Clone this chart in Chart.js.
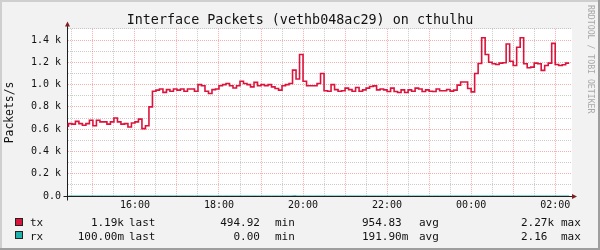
<!DOCTYPE html>
<html><head><meta charset="utf-8">
<script src="https://cdn.jsdelivr.net/npm/chart.js@4/dist/chart.umd.min.js"></script>
<style>
html,body{margin:0;padding:0;background:#f2f2f2;}
#wrap{position:relative;width:600px;height:250px;overflow:hidden;font-family:'DejaVu Sans Mono',monospace;color:#000;}
#c{position:absolute;left:0;top:0;}
.t{position:absolute;font-size:11px;line-height:11px;white-space:pre;color:#111;}
.sw{position:absolute;left:15px;width:6px;height:6px;border:1px solid #222;}
#wm{position:absolute;left:586px;top:5px;writing-mode:vertical-rl;font-size:8.2px;line-height:10px;color:#a8a8a8;white-space:pre;}
</style>
</head><body>
<div id="wrap">
<canvas id="c" width="600" height="250"></canvas>
<div class="sw" style="top:218px;background:#dc143c"></div>
<div class="sw" style="top:231px;background:#20b2aa"></div>
<span class="t" style="left:30px;top:217px">tx</span>
<span class="t" style="right:476px;top:217px">1.19k</span>
<span class="t" style="left:129px;top:217px">last</span>
<span class="t" style="right:340px;top:217px">494.92</span>
<span class="t" style="left:275px;top:217px">min</span>
<span class="t" style="left:362px;top:217px">954.83</span>
<span class="t" style="left:419px;top:217px">avg</span>
<span class="t" style="left:521px;top:217px">2.27k</span>
<span class="t" style="left:561px;top:217px">max</span>
<span class="t" style="left:30px;top:230.5px">rx</span>
<span class="t" style="right:476px;top:230.5px">100.00m</span>
<span class="t" style="left:129px;top:230.5px">last</span>
<span class="t" style="right:340px;top:230.5px">0.00</span>
<span class="t" style="left:275px;top:230.5px">min</span>
<span class="t" style="left:362px;top:230.5px">191.90m</span>
<span class="t" style="left:419px;top:230.5px">avg</span>
<span class="t" style="left:521px;top:230.5px">2.16</span>
<span class="t" style="left:561px;top:230.5px">max</span>
<div id="wm">RRDTOOL / TOBI OETIKER</div>
</div>
<script>
// ---- data (packets per second, 5-minute steps) ----
const startMinute = 865;   // 14:25
const stepMinutes = 5;
const txPackets = [
 620,650,645,670,650,635,650,680,630,680,665,665,
 645,665,700,665,645,650,620,655,665,690,605,630,
 800,940,950,960,930,955,940,960,950,960,940,960,
 960,940,1000,990,940,920,955,960,990,1000,1010,990,
 970,990,1030,1010,1000,980,1020,990,1000,990,1000,980,
 965,950,990,1000,1010,1130,1050,1270,1030,990,990,990,
 1010,1100,945,940,1000,955,940,945,968,955,940,974,
 940,953,968,983,989,953,960,953,938,968,938,929,
 953,929,953,940,968,960,938,953,940,938,960,945,
 945,956,941,950,995,1024,1024,965,935,1100,1190,1420,
 1270,1200,1187,1180,1193,1196,1364,1210,1172,1335,1420,1187,
 1151,1157,1193,1187,1128,1172,1193,1370,1180,1172,1178,1193
];
const rxPackets = [
 0.2,0.1,0.2,0.1,0.1,0.2,0.1,0.2,0.1,0.1,0.2,0.1,
 0.1,0.2,0.1,0.0,0.2,0.1,0.1,0.2,0.1,0.2,0.1,0.1,
 0.2,0.1,0.2,0.1,0.0,0.1,0.2,0.1,0.1,0.2,0.1,0.2,
 0.1,0.1,0.2,0.1,0.2,0.1,0.0,0.1,0.2,0.1,0.1,0.2,
 0.1,0.2,0.1,0.1,0.2,0.1,0.2,0.0,0.1,0.2,0.1,0.1,
 0.2,0.1,0.1,0.2,0.1,2.16,0.2,0.1,0.1,0.2,0.1,0.1,
 0.2,0.1,0.2,0.1,0.1,0.0,0.2,0.1,0.1,0.2,0.1,0.2,
 0.1,0.1,0.2,0.1,0.2,0.1,0.1,0.0,0.2,0.1,0.2,0.1,
 0.1,0.2,0.1,0.1,0.2,0.1,0.2,0.1,0.0,0.1,0.2,0.1,
 0.2,0.1,0.1,0.2,0.1,0.2,0.1,0.1,0.2,0.1,0.0,0.2,
 0.1,0.2,0.1,0.1,0.2,0.1,0.2,0.1,0.1,0.2,0.1,0.1,
 0.2,0.1,0.0,0.2,0.1,0.2,0.1,0.1,0.2,0.1,0.2,0.1
];
const seriesNames = ['tx', 'rx'];
const xTickLabels = ['16:00','18:00','20:00','22:00','00:00','02:00'];
const xTickMinutes = [960,1080,1200,1320,1440,1560];
const yTickLabels = ['0.0','0.2 k','0.4 k','0.6 k','0.8 k','1.0 k','1.2 k','1.4 k'];
const yTickValues = [0,200,400,600,800,1000,1200,1400];

const times = txPackets.map((_, i) => startMinute + i * stepMinutes);
const xMin = 863, xMax = 1584, yMax = 1500;
const xGridTicks = []; for (let m = 870; m <= 1560; m += 30) xGridTicks.push(m);
const yGridTicks = []; for (let v = 0; v <= yMax; v += 100) yGridTicks.push(v);

const MINOR = 'rgba(143,143,143,0.45)', MAJOR = 'rgba(232,79,79,0.45)';

const framePlugin = {
  id: 'frame',
  beforeDraw(chart) {
    const c = chart.ctx, a = chart.chartArea, W = chart.width, H = chart.height;
    c.save();
    c.fillStyle = '#f2f2f2'; c.fillRect(0, 0, W, H);
    c.fillStyle = '#cfcfcf'; c.fillRect(0, 0, W, 2); c.fillRect(0, 0, 2, H);
    c.fillStyle = '#9e9e9e'; c.fillRect(0, H - 2, W, 2); c.fillRect(W - 2, 0, 2, H);
    c.fillStyle = '#ffffff'; c.fillRect(a.left, a.top, a.right - a.left, a.bottom - a.top);
    c.restore();
  },
  beforeDatasetsDraw(chart) {
    const c = chart.ctx, a = chart.chartArea;
    const x0 = Math.round(a.left) + 0.5, y0 = Math.round(a.bottom) + 0.5;
    c.save();
    c.strokeStyle = '#1f1f1f'; c.lineWidth = 1;
    c.beginPath();
    c.moveTo(x0, y0 + 4); c.lineTo(x0, a.top - 3);
    c.moveTo(x0 - 4, y0); c.lineTo(a.right, y0);
    c.stroke();
    c.fillStyle = '#801f1f';
    c.beginPath(); c.moveTo(x0 - 2.5, a.top - 2.5); c.lineTo(x0 + 2.5, a.top - 2.5); c.lineTo(x0, a.top - 7.5); c.closePath(); c.fill();
    c.beginPath(); c.moveTo(a.right, y0 - 2.5); c.lineTo(a.right, y0 + 2.5); c.lineTo(a.right + 5, y0); c.closePath(); c.fill();
    c.restore();
  }
};

Chart.defaults.font.family = "'DejaVu Sans Mono', monospace";
Chart.defaults.color = '#111';

new Chart(document.getElementById('c'), {
  type: 'line',
  data: {
    datasets: [
      { label: seriesNames[0], data: times.map((t, i) => ({x: t, y: txPackets[i]})),
        borderColor: '#dc143c', borderWidth: 1.6, pointRadius: 0, stepped: 'after', fill: false },
      { label: seriesNames[1], data: times.map((t, i) => ({x: t, y: rxPackets[i]})),
        borderColor: '#20b2aa', borderWidth: 1, pointRadius: 0, stepped: 'after', fill: false }
    ]
  },
  options: {
    responsive: false, animation: false, devicePixelRatio: 1,
    layout: { padding: 0, autoPadding: false },
    plugins: {
      legend: { display: false }, tooltip: { enabled: false },
      title: { display: true, text: 'Interface Packets (vethb048ac29) on cthulhu',
        font: { size: 13.4, lineHeight: 1, weight: 'normal' }, color: '#111',
        padding: { top: 13.5, bottom: 2 } }
    },
    scales: {
      x: {
        type: 'linear', min: xMin, max: xMax,
        afterBuildTicks: s => { s.ticks = xGridTicks.map(v => ({value: v})); },
        afterFit: s => { s.height = 54; },
        grid: { color: ctx => (ctx.tick && ctx.tick.value % 60 === 0) ? MAJOR : MINOR, drawTicks: false, lineWidth: 1 },
        border: { display: true, color: '#1f1f1f', width: 1, dash: [1, 1] },
        ticks: { autoSkip: false, maxRotation: 0, padding: 3, font: { size: 10 }, color: '#111',
          callback: v => { const k = xTickMinutes.indexOf(v); return k >= 0 ? xTickLabels[k] : ''; } }
      },
      y: {
        type: 'linear', min: 0, max: yMax,
        afterBuildTicks: s => { s.ticks = yGridTicks.map(v => ({value: v})); },
        afterFit: s => { s.width = 67; },
        grid: { color: ctx => (ctx.tick && ctx.tick.value % 200 === 0) ? MAJOR : MINOR, drawTicks: false, lineWidth: 1 },
        border: { display: true, color: '#1f1f1f', width: 1, dash: [1, 1] },
        title: { display: true, text: 'Packets/s', font: { size: 11.4, lineHeight: 1.2 }, color: '#111', padding: { top: 3, bottom: 0 } },
        ticks: { autoSkip: false, padding: 6, font: { size: 10 }, color: '#111',
          callback: v => { const k = yTickValues.indexOf(v); return k >= 0 ? yTickLabels[k] : ''; } }
      },
      pad: {
        type: 'linear', position: 'right', display: true,
        afterFit: s => { s.width = 28; },
        grid: { display: false, drawTicks: false }, border: { display: false },
        ticks: { display: false }
      }
    }
  },
  plugins: [framePlugin]
});
</script>
</body></html>
